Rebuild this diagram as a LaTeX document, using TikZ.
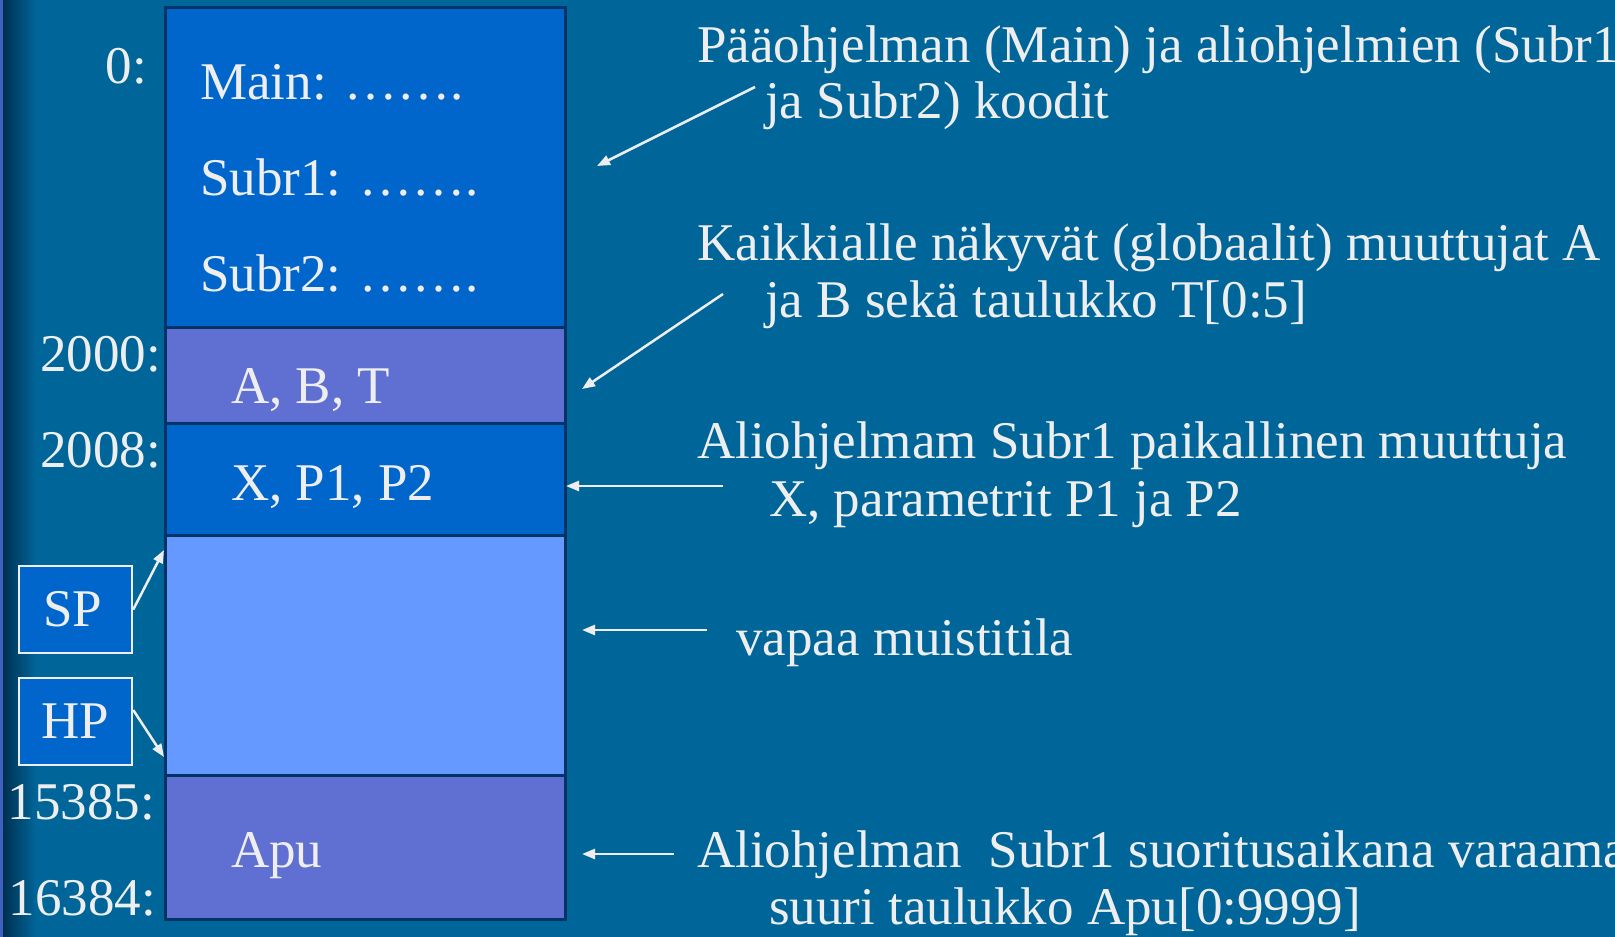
\documentclass[tikz,border=0pt]{standalone}
\usepackage{fontspec}
\setmainfont{Liberation Serif}
\usepackage{tikz}
\usetikzlibrary{arrows.meta}
\definecolor{bg}{RGB}{0, 102, 153}
\definecolor{strip}{RGB}{0, 48, 80}
\definecolor{noise}{RGB}{64, 96, 192}
\definecolor{code}{RGB}{0, 102, 204}
\definecolor{vars}{RGB}{96, 112, 210}
\definecolor{free}{RGB}{102, 153, 255}
\definecolor{edge}{RGB}{0, 51, 102}
\definecolor{ink}{RGB}{238, 238, 238}

\begin{document}
\begin{tikzpicture}[x=1pt, y=-1pt,
  txt/.style={text=ink, font=\fontsize{53}{60}\selectfont, inner sep=0pt, anchor=base west},
  addr/.style={txt, anchor=base east},
  note/.style={txt, font=\fontsize{53}{60}\selectfont},
  block/.style={draw=edge, line width=3pt, minimum width=400pt, inner sep=0pt, anchor=north west},
  reg/.style={draw=ink, line width=2.5pt, fill=code, minimum width=113pt, minimum height=87pt,
    inner sep=0pt, text=ink, font=\fontsize{53}{60}\selectfont},
  ptr/.style={ink, line width=2.5pt, -{Triangle[length=13pt, width=10pt]}}]
  \useasboundingbox (0, 0) rectangle (1615, 937);
  \clip (0, 0) rectangle (1615, 937);

  % background
  \fill[bg] (0, 0) rectangle (1615, 937);
  \shade[left color=strip, right color=bg] (3, 0) rectangle (36, 937);
  \fill[noise] (0, 0) rectangle (3, 937);

  % memory column
  \node[block, fill=code, minimum height=320pt] (codeblk) at (164, 6) {};
  \node[block, fill=vars, minimum height=96pt] (globblk) at (164, 326) {};
  \node[block, fill=code, minimum height=112pt] (locblk) at (164, 422) {};
  \node[block, fill=free, minimum height=240pt] (freeblk) at (164, 534) {};
  \node[block, fill=vars, minimum height=144pt] (heapblk) at (164, 774) {};

  \node[txt] (main) at (200, 99) {Main: …….};
  \node[txt] (subone) at (200, 195) {Subr1: …….};
  \node[txt] (subtwo) at (200, 291) {Subr2: …….};
  \node[txt] (abt) at (231, 403) {A, B, T};
  \node[txt] (xpp) at (231, 500) {X, P1, P2};
  \node[txt] (apu) at (231, 867) {Apu};

  % addresses
  \node[addr] (a0) at (147, 83) {0:};
  \node[addr] (a2000) at (161, 371) {2000:};
  \node[addr] (a2008) at (161, 467) {2008:};
  \node[addr] (a15385) at (155, 819) {15385:};
  \node[addr] (a16384) at (156, 915) {16384:};

  % stack and heap pointers
  \node[reg] (sp) at (75.5, 609.5) {SP\hspace*{6pt}};
  \node[reg] (hp) at (75.5, 721.5) {HP};
  \coordinate (sptip) at (164, 550);
  \coordinate (hptip) at (164, 757);
  \draw[ptr] (sp.east) -- (sptip);
  \draw[ptr] (hp.east |- 0, 710) -- (hptip);

  % explanations
  \node[note] (n1a) at (697, 62) {Pääohjelman (Main) ja aliohjelmien (Subr1};
  \node[note] (n1b) at (765, 118) {ja Subr2) koodit};
  \node[note] (n2a) at (697, 260) {Kaikkialle näkyvät (globaalit) muuttujat A};
  \node[note] (n2b) at (765, 317) {ja B sekä taulukko T[0:5]};
  \node[note] (n3a) at (697, 458) {Aliohjelmam Subr1 paikallinen muuttuja};
  \node[note] (n3b) at (769, 516) {X, parametrit P1 ja P2};
  \node[note] (n4) at (736, 655) {vapaa muistitila};
  \node[note] (n5a) at (697, 867) {Aliohjelman\ \ Subr1 suoritusaikana varaama};
  \node[note] (n5b) at (769, 924) {suuri taulukko Apu[0:9999]};

  \coordinate (t1) at (755, 87);   \coordinate (h1) at (597, 166);
  \coordinate (t2) at (723, 294);  \coordinate (h2) at (582, 389);
  \coordinate (t3) at (723, 486);  \coordinate (h3) at (566, 486);
  \coordinate (t4) at (707, 630);  \coordinate (h4) at (582, 630);
  \coordinate (t5) at (674, 854);  \coordinate (h5) at (582, 854);
  \draw[ptr] (t1) -- (h1);
  \draw[ptr] (t2) -- (h2);
  \draw[ptr] (t3) -- (h3);
  \draw[ptr] (t4) -- (h4);
  \draw[ptr] (t5) -- (h5);
\end{tikzpicture}
\end{document}
